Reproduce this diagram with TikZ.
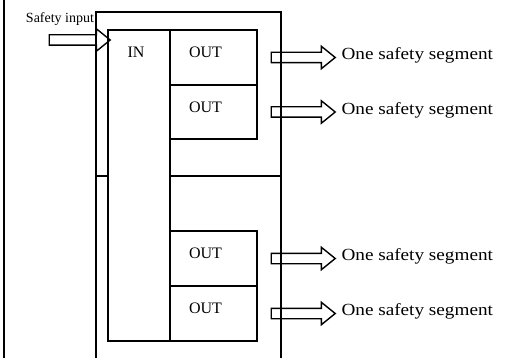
\documentclass[tikz,border=0pt]{standalone}
\usepackage{fontspec}
\setmainfont{Liberation Serif}
\newfontfamily\segfont[FakeStretch=1.13]{Liberation Serif}
\usetikzlibrary{shapes.arrows}
\begin{document}
\begin{tikzpicture}[x=1pt,y=-1pt,
  boxline/.style={line width=1.6pt},
  cell/.style={draw, boxline, inner sep=0pt, minimum width=87pt},
  celltext/.style={inner sep=0pt, font=\fontsize{16}{18}\selectfont},
  blockarrow/.style={single arrow, draw, line width=1.4pt, inner sep=4.5pt,
    single arrow head extend=6pt, single arrow tip angle=78,
    minimum width=0pt, minimum height=#1},
  segtext/.style={inner sep=0pt, anchor=west, font=\segfont\fontsize{17}{19}\selectfont}]
\useasboundingbox (0,0) rectangle (510,358);
% left border line
\coordinate (lt) at (4,0);
\coordinate (lb) at (4,358);
\draw[boxline] (lt) -- (lb);
% outer module frame
\coordinate (fbl) at (96,358);
\coordinate (ftl) at (96,12);
\coordinate (ftr) at (281,12);
\coordinate (fbr) at (281,358);
\draw[boxline] (fbl) -- (ftl) -- (ftr) -- (fbr);
% IN column
\node[draw, boxline, inner sep=0pt, minimum width=62pt, minimum height=311pt] (inbox) at (139,185.5) {};
\node[celltext] (intext) at (136,52) {IN};
% divider
\coordinate (dl) at (96,176);
\coordinate (dr) at (281,176);
\draw[boxline] (dl) -- (dl -| inbox.west);
\draw[boxline] (dl -| inbox.east) -- (dr);
% OUT cells
\node[cell, minimum height=55pt] (o1) at (213.5,57.5) {};
\node[cell, minimum height=54pt] (o2) at (213.5,112) {};
\node[cell, minimum height=55pt] (o3) at (213.5,258.5) {};
\node[cell, minimum height=55pt] (o4) at (213.5,313.5) {};
\foreach \c in {o1,o2,o3,o4}{
  \node[celltext] (\c t) at ([shift={(-8,-5)}]\c.center) {OUT};
}
% input arrow
\node[blockarrow=61pt] (ain) at (76.5,40) {};
\node[inner sep=0pt, font=\fontsize{14}{16}\selectfont] (sin) at (60,19) {Safety input};
% output arrows
\foreach \c in {o1,o2,o3,o4}{
  \node[blockarrow=64pt] (a\c) at (300,0 |- \c.center) {};
  \node[segtext] (s\c) at ([shift={(5,-2)}]a\c.tip) {One safety segment};
}
\end{tikzpicture}
\end{document}
